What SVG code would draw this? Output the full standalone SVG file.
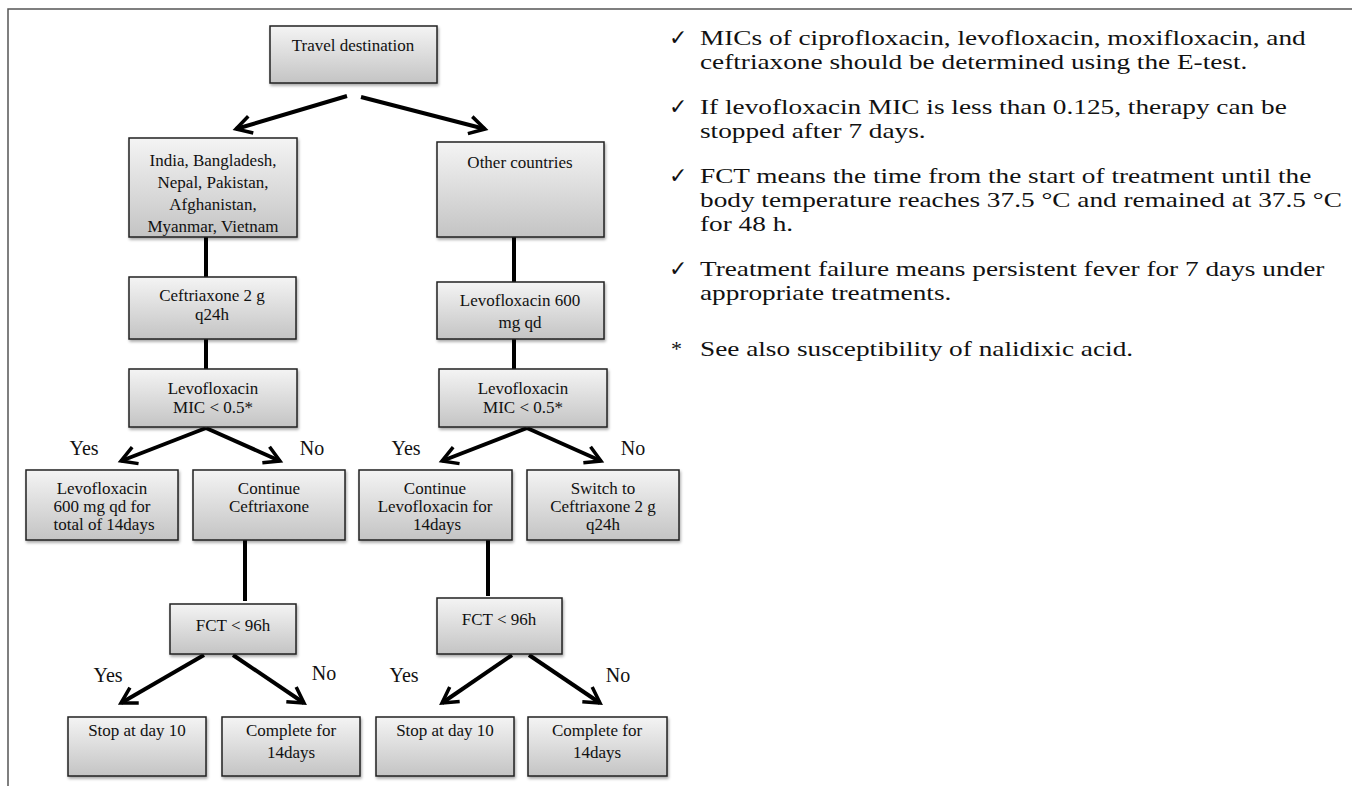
<svg xmlns="http://www.w3.org/2000/svg" width="1352" height="786" viewBox="0 0 1352 786">
<defs>
<linearGradient id="g" x1="0" y1="0" x2="0" y2="1">
<stop offset="0" stop-color="#f4f4f4"/>
<stop offset="1" stop-color="#c4c4c4"/>
</linearGradient>
<filter id="sh" x="-10%" y="-10%" width="130%" height="130%">
<feGaussianBlur in="SourceAlpha" stdDeviation="1.5"/>
<feOffset dx="1" dy="2"/>
<feComponentTransfer><feFuncA type="linear" slope="0.35"/></feComponentTransfer>
<feMerge><feMergeNode/><feMergeNode in="SourceGraphic"/></feMerge>
</filter>
<marker id="ah" viewBox="0 0 10 10" refX="8" refY="5" markerWidth="5.5" markerHeight="5.5" orient="auto" markerUnits="strokeWidth">
<path d="M1,1 L8,5 L1,9" fill="none" stroke="#000" stroke-width="1.6"/>
</marker>
</defs>
<style>
.box{fill:url(#g);stroke:#222;stroke-width:1.5;filter:url(#sh)}
.t{font-family:"Liberation Serif","Times New Roman",serif;font-size:17px;fill:#111;text-anchor:middle}
.lab{font-family:"Liberation Serif","Times New Roman",serif;font-size:20px;fill:#111;text-anchor:middle}
.n{font-family:"Liberation Serif","Times New Roman",serif;font-size:22px;fill:#111}
.c{stroke:#000;stroke-width:4;fill:none}
.a{stroke:#000;stroke-width:4;fill:none;marker-end:url(#ah)}
.fr{stroke:#555;stroke-width:1.5;fill:none}
</style>
<rect width="1352" height="786" fill="#fff"/>
<path class="fr" d="M8,786 L8,9 L1352,9"/>

<g id="connectors">
<line class="a" x1="347" y1="96" x2="236" y2="129"/>
<line class="a" x1="361" y1="97" x2="485" y2="129"/>
<line class="c" x1="206" y1="237" x2="206" y2="277"/>
<line class="c" x1="514" y1="237" x2="514" y2="282"/>
<line class="c" x1="206" y1="339" x2="206" y2="369"/>
<line class="c" x1="514" y1="339" x2="514" y2="369"/>
<line class="a" x1="206" y1="428" x2="121" y2="461"/>
<line class="a" x1="206" y1="428" x2="280" y2="461"/>
<line class="a" x1="527" y1="428" x2="442" y2="461"/>
<line class="a" x1="527" y1="428" x2="601" y2="461"/>
<line class="c" x1="245" y1="540" x2="245" y2="601"/>
<line class="c" x1="488" y1="540" x2="488" y2="596"/>
<line class="a" x1="204" y1="655" x2="121" y2="703"/>
<line class="a" x1="233" y1="655" x2="304" y2="703"/>
<line class="a" x1="512" y1="655" x2="442" y2="703"/>
<line class="a" x1="529" y1="655" x2="600" y2="703"/>
</g>

<g id="n-travel"><rect class="box" x="270" y="26" width="167" height="57"/><text class="t" x="353" y="51">Travel destination</text></g>
<g id="n-india"><rect class="box" x="129" y="138" width="168" height="99"/>
<text class="t" x="213" y="166">India, Bangladesh,</text><text class="t" x="213" y="188">Nepal, Pakistan,</text><text class="t" x="213" y="210">Afghanistan,</text><text class="t" x="213" y="232">Myanmar, Vietnam</text></g>
<g id="n-other"><rect class="box" x="437" y="142" width="167" height="95"/><text class="t" x="520" y="168">Other countries</text></g>
<g id="n-ceft1"><rect class="box" x="129" y="277" width="167" height="62"/><text class="t" x="212" y="301">Ceftriaxone 2 g</text><text class="t" x="212" y="320">q24h</text></g>
<g id="n-levo600"><rect class="box" x="437" y="282" width="167" height="57"/><text class="t" x="520" y="306">Levofloxacin 600</text><text class="t" x="520" y="328">mg qd</text></g>
<g id="n-mic1"><rect class="box" x="129" y="369" width="168" height="58"/><text class="t" x="213" y="394">Levofloxacin</text><text class="t" x="213" y="413">MIC &lt; 0.5*</text></g>
<g id="n-mic2"><rect class="box" x="439" y="369" width="168" height="58"/><text class="t" x="523" y="394">Levofloxacin</text><text class="t" x="523" y="413">MIC &lt; 0.5*</text></g>

<g id="labels1">
<text class="lab" x="84" y="455">Yes</text><text class="lab" x="312" y="455">No</text>
<text class="lab" x="406" y="455">Yes</text><text class="lab" x="633" y="455">No</text>
</g>

<g id="n-levo14"><rect class="box" x="26" y="470" width="152" height="70"/><text class="t" x="102" y="494">Levofloxacin</text><text class="t" x="102" y="512">600 mg qd for</text><text class="t" x="104" y="530">total of 14days</text></g>
<g id="n-contceft"><rect class="box" x="193" y="470" width="152" height="70"/><text class="t" x="269" y="494">Continue</text><text class="t" x="269" y="512">Ceftriaxone</text></g>
<g id="n-contlevo"><rect class="box" x="359" y="470" width="153" height="70"/><text class="t" x="435" y="494">Continue</text><text class="t" x="435" y="512">Levofloxacin for</text><text class="t" x="437" y="530">14days</text></g>
<g id="n-switch"><rect class="box" x="527" y="470" width="152" height="70"/><text class="t" x="603" y="494">Switch to</text><text class="t" x="603" y="512">Ceftriaxone 2 g</text><text class="t" x="603" y="530">q24h</text></g>

<g id="n-fct1"><rect class="box" x="170" y="604" width="126" height="50"/><text class="t" x="233" y="631">FCT &lt; 96h</text></g>
<g id="n-fct2"><rect class="box" x="437" y="598" width="125" height="56"/><text class="t" x="499" y="625">FCT &lt; 96h</text></g>

<g id="labels2">
<text class="lab" x="108" y="682">Yes</text><text class="lab" x="324" y="680">No</text>
<text class="lab" x="404" y="682">Yes</text><text class="lab" x="618" y="682">No</text>
</g>

<g id="n-stop1"><rect class="box" x="68" y="717" width="138" height="59"/><text class="t" x="137" y="736">Stop at day 10</text></g>
<g id="n-comp1"><rect class="box" x="222" y="717" width="138" height="59"/><text class="t" x="291" y="736">Complete for</text><text class="t" x="291" y="758">14days</text></g>
<g id="n-stop2"><rect class="box" x="376" y="717" width="138" height="59"/><text class="t" x="445" y="736">Stop at day 10</text></g>
<g id="n-comp2"><rect class="box" x="528" y="717" width="139" height="59"/><text class="t" x="597" y="736">Complete for</text><text class="t" x="597" y="758">14days</text></g>

<g id="notes">
<text class="n" x="669" y="45">✓</text>
<text class="n" x="669" y="114">✓</text>
<text class="n" x="669" y="183">✓</text>
<text class="n" x="669" y="276">✓</text>
<text class="n" x="671" y="356">*</text>
<g transform="translate(700 0) scale(1.24 1)">
<text class="n" x="0" y="45">MICs of ciprofloxacin, levofloxacin, moxifloxacin, and</text>
<text class="n" x="0" y="69">ceftriaxone should be determined using the E-test.</text>
<text class="n" x="0" y="114">If levofloxacin MIC is less than 0.125, therapy can be</text>
<text class="n" x="0" y="138">stopped after 7 days.</text>
<text class="n" x="0" y="183">FCT means the time from the start of treatment until the</text>
<text class="n" x="0" y="207">body temperature reaches 37.5 °C and remained at 37.5 °C</text>
<text class="n" x="0" y="231">for 48 h.</text>
<text class="n" x="0" y="276">Treatment failure means persistent fever for 7 days under</text>
<text class="n" x="0" y="300">appropriate treatments.</text>
<text class="n" x="0" y="356">See also susceptibility of nalidixic acid.</text>
</g>
</g>
</svg>
